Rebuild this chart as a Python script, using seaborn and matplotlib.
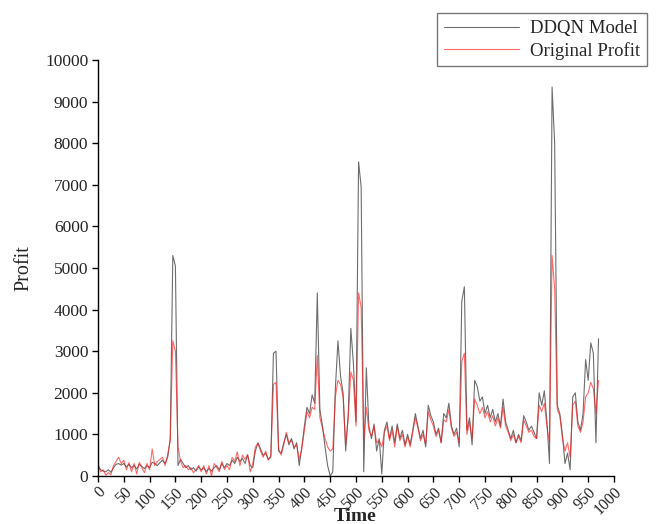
import numpy as np
import pandas as pd
import matplotlib
matplotlib.use("Agg")
import matplotlib.pyplot as plt
import seaborn as sns

# time steps (every 5 units)
time = list(range(0, 975, 5))

ddqn = [
    240, 150, 120, 100, 150, 90, 200, 280, 300, 260,
    300, 220, 280, 200, 250, 170, 280, 230, 180, 250,
    200, 330, 300, 250, 320, 380, 300, 450, 900, 5300,
    5050, 250, 400, 300, 200, 250, 150, 200, 120, 220,
    150, 200, 100, 180, 120, 200, 250, 150, 300, 200,
    300, 250, 380, 300, 450, 350, 420, 300, 500, 250,
    200, 600, 800, 650, 500, 550, 400, 450, 2950, 3000,
    600, 550, 800, 1000, 750, 900, 650, 800, 250, 700,
    1200, 1650, 1500, 1950, 1750, 4400, 1600, 1200, 700, 250,
    0, 100, 2100, 3250, 2400, 2000, 600, 1500, 3550, 2700,
    1300, 7550, 6950, 100, 2600, 1200, 900, 1250, 600, 900,
    50, 1100, 1300, 900, 1200, 800, 1250, 900, 1100, 750,
    1000, 750, 1100, 1500, 1200, 900, 1100, 700, 1700, 1450,
    1300, 1000, 1150, 800, 1500, 1400, 1750, 1200, 1000, 1150,
    700, 4200, 4550, 1100, 1400, 750, 2300, 2150, 1800, 1900,
    1500, 1700, 1400, 1600, 1300, 1500, 1200, 1850, 1300, 1100,
    900, 1100, 800, 1000, 850, 1450, 1300, 1100, 1200, 1050,
    900, 2000, 1700, 2050, 1300, 300, 9350, 8000, 1700, 1500,
    1000, 300, 550, 150, 1900, 2000, 1300, 1100, 1500, 2800,
    2300, 3200, 2950, 800, 3300,
]

original = [
    300, 100, 150, 20, 80, 30, 250, 350, 450, 300,
    380, 150, 320, 100, 300, 50, 330, 200, 80, 300,
    150, 650, 250, 350, 400, 450, 250, 500, 850, 3250,
    3000, 700, 350, 200, 250, 150, 200, 80, 150, 250,
    100, 250, 50, 250, 0, 300, 200, 100, 350, 150,
    250, 150, 450, 350, 580, 250, 500, 400, 520, 100,
    300, 700, 780, 600, 450, 600, 380, 500, 2200, 2250,
    650, 500, 750, 1050, 800, 850, 700, 750, 400, 650,
    1100, 1550, 1400, 1650, 1600, 2900, 1400, 1150, 900, 700,
    600, 650, 1900, 2300, 2200, 1900, 750, 1400, 2500, 2300,
    1200, 4400, 4050, 900, 1650, 1100, 950, 1200, 800, 850,
    700, 1050, 1200, 850, 1100, 700, 1200, 850, 1000, 700,
    950, 700, 1050, 1400, 1150, 850, 1000, 750, 1550, 1350,
    1200, 950, 1100, 800, 1350, 1300, 1600, 1150, 950, 1050,
    800, 2750, 2950, 1000, 1300, 900, 1850, 1700, 1500, 1650,
    1400, 1550, 1300, 1450, 1200, 1400, 1150, 1650, 1200, 1050,
    850, 1000, 800, 950, 800, 1350, 1200, 1050, 1100, 950,
    900, 1700, 1550, 1750, 1200, 800, 5300, 4500, 1600, 1450,
    900, 600, 800, 450, 1700, 1800, 1200, 1050, 1300, 1900,
    2000, 2250, 2100, 1500, 2300,
]

series_names = ["DDQN Model", "Original Profit"]
x_ticks = list(range(0, 1001, 50))
y_ticks = list(range(0, 10001, 1000))

sns.set_style("ticks")
plt.rcParams["font.family"] = ["Liberation Serif", "DejaVu Serif"]

fig = plt.figure(figsize=(6.57, 5.24), dpi=100)
ax = fig.add_axes([98 / 657, 1 - 476 / 524, (614 - 98) / 657, (476 - 60) / 524])

df_d = pd.DataFrame({"Time": time, "Profit": ddqn})
df_o = pd.DataFrame({"Time": time, "Profit": original})

sns.lineplot(data=df_d, x="Time", y="Profit", ax=ax, color="#555555",
             linewidth=0.8, alpha=0.85, label=series_names[0])
sns.lineplot(data=df_o, x="Time", y="Profit", ax=ax, color="#ff1a1a",
             linewidth=0.8, alpha=0.65, label=series_names[1])

ax.set_xlim(0, 1000)
ax.set_ylim(0, 10000)
ax.set_xticks(x_ticks)
ax.set_yticks(y_ticks)
ax.set_xticklabels([str(v) for v in x_ticks], rotation=45, ha="right",
                   rotation_mode="anchor", fontsize=11.5)
ax.set_yticklabels([str(v) for v in y_ticks], fontsize=12.5)
ax.tick_params(axis="both", direction="out", length=4, width=1, color="black",
               pad=3)
ax.tick_params(axis="x", pad=2)
ax.set_xlabel("Time", fontsize=14, fontweight="bold")
ax.xaxis.set_label_coords(0.498, -0.077)
ax.set_ylabel("Profit", fontsize=14.5)
ax.yaxis.set_label_coords(-0.126, 0.5)
for s in ["top", "right"]:
    ax.spines[s].set_visible(False)
for s in ["left", "bottom"]:
    ax.spines[s].set_color("black")
    ax.spines[s].set_linewidth(1)

ax.get_legend().remove()
handles, labels = ax.get_legend_handles_labels()
leg = fig.legend(handles, labels, loc="upper right",
                 bbox_to_anchor=(656 / 657, 1 - 4 / 524),
                 fontsize=13.5, frameon=True, fancybox=False,
                 edgecolor="#555555", handlelength=4.0,
                 borderpad=0.35, labelspacing=0.25, handletextpad=0.6)
leg.get_frame().set_linewidth(1.0)

fig.savefig("out.png", dpi=100)
